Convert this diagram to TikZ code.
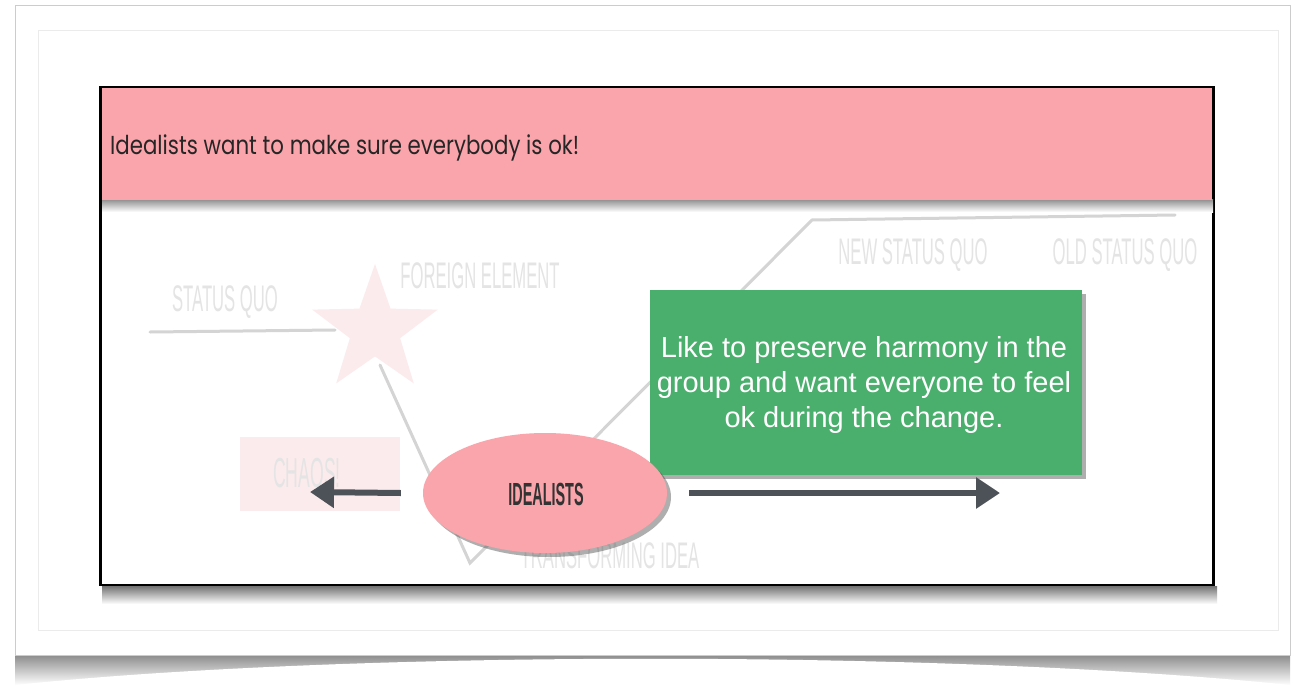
\documentclass[tikz,border=0pt]{standalone}
\usepackage{fontspec}
\setmainfont{Liberation Sans}
\newfontfamily\handfont{Poppins}
\usetikzlibrary{shadows,shapes.geometric,arrows.meta,calc}

\definecolor{bandpink}{HTML}{FAA4AB}
\definecolor{boxgreen}{HTML}{4AAF6D}
\definecolor{arrowgray}{HTML}{4D5259}
\definecolor{faintline}{HTML}{D4D4D4}
\definecolor{fainttext}{HTML}{E4E4E4}
\definecolor{faintpink}{HTML}{FCEBEC}

\newcommand{\narrow}[2]{\scalebox{#1}[1]{#2}}

\tikzset{
  faint/.style={font=\fontsize{37}{37}\selectfont, text=fainttext, inner sep=0},
  ghostline/.style={draw=faintline, line width=3pt, line cap=round},
  fatarrow/.style={draw=arrowgray, line width=6pt,
    -{Triangle[length=24pt,width=30pt]}},
  softshadow/.style={drop shadow={shadow xshift=4pt, shadow yshift=-4pt,
    opacity=0.45, fill=black!70}},
}

\begin{document}
\begin{tikzpicture}[x=1pt,y=-1pt]
\useasboundingbox (0,0) rectangle (1303,685);
\fill[white] (0,0) rectangle (1303,685);

% sheet with curled shadow underneath
\shade[top color=black!45, bottom color=white] (15,655) rectangle (1290,685);
\fill[white] (15,685) .. controls (350,650) and (950,650) .. (1290,685) -- cycle;
\fill[white, draw=black!20, line width=0.8pt] (15,5) rectangle (1290,655);
\draw[black!8, line width=0.8pt] (38,30) rectangle (1278,630);

% main frame with a soft shadow under its lower edge
\shade[top color=black!55, bottom color=white] (102,586) rectangle (1217,604);
\node[draw=black, line width=2.5pt, fill=white, minimum width=1113pt,
      minimum height=498pt, inner sep=0] (frame) at (657,336) {};

% header band
\shade[top color=black!45, bottom color=white] (102,199) rectangle (1213,212);
\node[fill=bandpink, minimum width=1110pt, minimum height=112pt, inner sep=0,
      anchor=north west] (band) at (102,88) {};
\node[anchor=west, inner sep=0, text=black!85,
      font=\handfont\fontsize{26}{26}\selectfont] (headline) at (110,148)
  {\narrow{0.82}{Idealists want to make sure everybody is ok!}};

% faded change curve in the background
\coordinate (sqL) at (150,332);
\coordinate (sqR) at (335,330);
\coordinate (vbottom) at (470,563);
\coordinate (vtop) at (812,220);
\coordinate (newR) at (1175,215);
\draw[ghostline] (sqL) -- (sqR);
\node[star, star points=5, star point ratio=2.5, minimum size=132pt,
      fill=faintpink, inner sep=0] (fstar) at (375,330) {};
\draw[ghostline] (380,365) -- (vbottom) -- (vtop) -- (newR);

\node[faint] (sq) at (225,302) {\narrow{0.45}{STATUS QUO}};
\node[faint] (fe) at (480,276) {\narrow{0.45}{FOREIGN ELEMENT}};
\node[faint] (nsq) at (913,255) {\narrow{0.45}{NEW STATUS QUO}};
\node[faint] (osq) at (1125,255) {\narrow{0.45}{OLD STATUS QUO}};
\node[faint] (ti) at (610,556) {\narrow{0.45}{TRANSFORMING IDEA}};
\node[fill=faintpink, minimum width=160pt, minimum height=74pt, inner sep=0]
  (chaosbox) at (320,474) {};
\node[faint, font=\fontsize{42}{42}\selectfont] (chaos) at (307,473)
  {\narrow{0.42}{CHAOS!}};

% green note
\node[fill=boxgreen, softshadow, minimum width=432pt, minimum height=185pt,
      inner sep=0, anchor=north west] (note) at (650,290) {};
\node[text=white, align=center, font=\fontsize{29}{35}\selectfont]
  (notetext) at (864,385)
  {Like to preserve harmony in the\\group and want everyone to feel\\ok during the change.};

% idealists ellipse
\node[ellipse, fill=bandpink, softshadow, minimum width=244pt,
      minimum height=120pt, inner sep=0] (ideal) at (545,493) {};
\node[text=black!80, font=\bfseries\fontsize{32}{32}\selectfont] (idealtext)
  at (546,494) {\narrow{0.45}{IDEALISTS}};

% arrows out of the ellipse
\coordinate (leftend) at (310,492);
\coordinate (rightend) at (1000,493);
\draw[fatarrow] ($(ideal.west)+(-22,0)$) -- (leftend);
\draw[fatarrow] ($(ideal.east)+(22,0)$) -- (rightend);
\end{tikzpicture}
\end{document}
